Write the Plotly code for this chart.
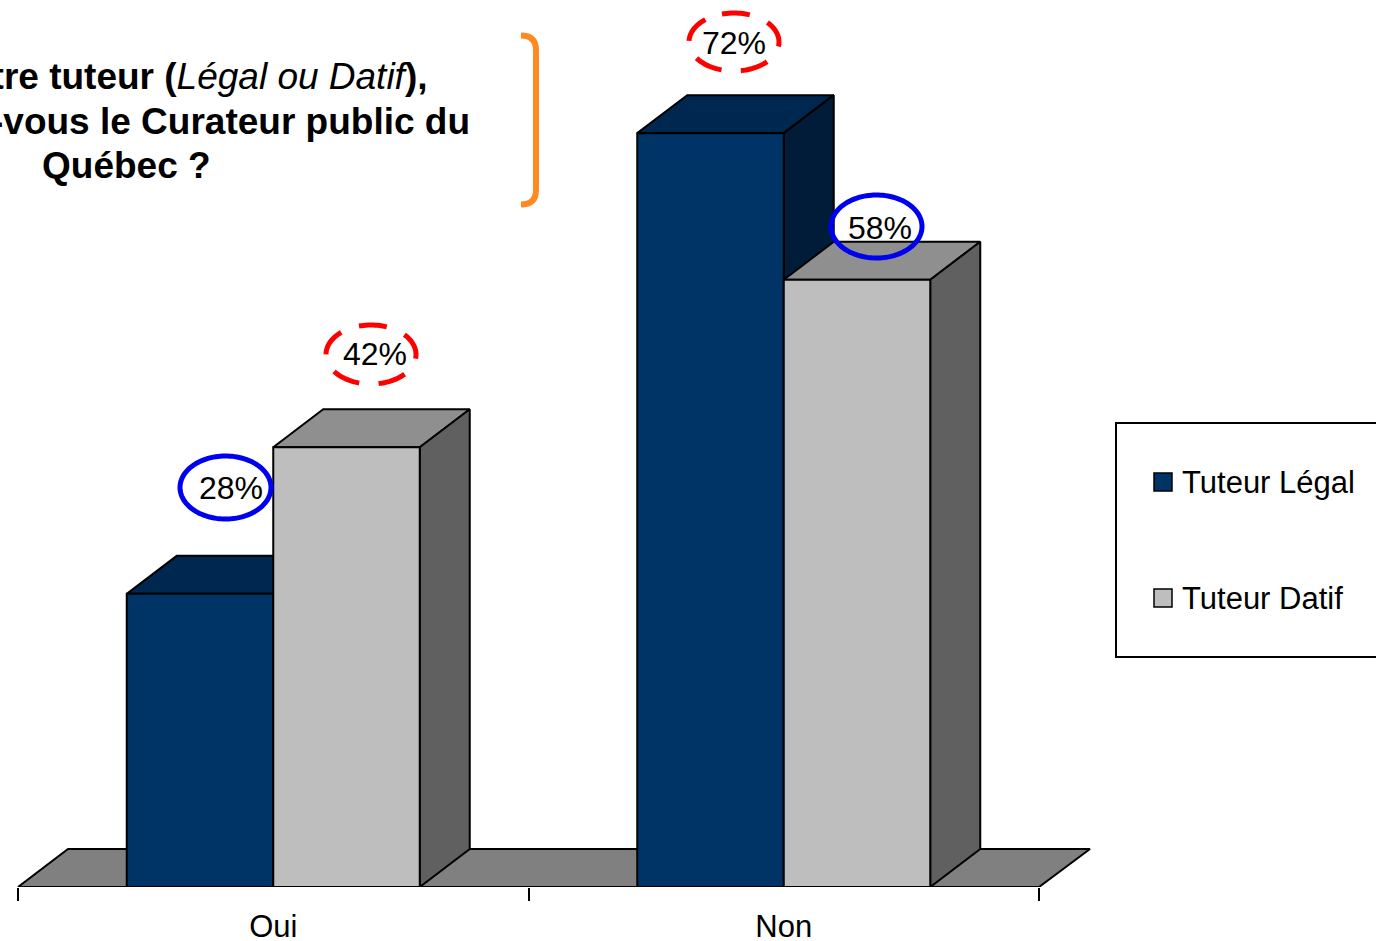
import math
import plotly.graph_objects as go

categories = ["Oui", "Non"]
series_names = ["Tuteur Légal", "Tuteur Datif"]
tuteur_legal = [28, 72]
tuteur_datif = [42, 58]
title_lines = ["<b>être tuteur (</b><i>Légal ou Datif</i><b>),</b>",
               "<b>-vous le Curateur public du</b>",
               "<b>Québec ?</b>"]

W, H, BOTTOM = 1376, 941, 887
CAT_PX = 510.5
LEFT_PX = 18
PX_PER_PCT = 10.47
DEPTH_X = 50 / CAT_PX
FLOOR_DX = 51 / CAT_PX
DEPTH_Y = 38 / PX_PER_PCT
BAR_W = 146.5 / CAT_PX
FONT = "Liberation Sans, Arial, sans-serif"

x_range = [-0.5 - LEFT_PX / CAT_PX, -0.5 + (W - LEFT_PX) / CAT_PX]
y_range = [0, BOTTOM / PX_PER_PCT]

front = ["#003366", "#BEBEBE"]
top = ["#00274F", "#8F8F8F"]
side = ["#001C38", "#606060"]
FLOOR = "#808080"
LINE = "#000000"

def px(v):
    return v / W

def py(v):
    return (BOTTOM - v) / BOTTOM

def face(xs, ys, color, name):
    return go.Scatter(x=xs, y=ys, mode="lines", fill="toself", fillcolor=color,
                      line=dict(color=LINE, width=2), hoverinfo="skip",
                      showlegend=False, name=name, xaxis="x", yaxis="y")

fig = go.Figure()

# floor
fig.add_trace(face([-0.5, -0.5 + DEPTH_X, 1.5 + FLOOR_DX, 1.5, -0.5],
                   [0, DEPTH_Y, DEPTH_Y, 0, 0], FLOOR, "floor"))

# 3D faces, computed from the values
series = [tuteur_legal, tuteur_datif]
for s, values in enumerate(series):
    for c, v in enumerate(values):
        x0 = c - BAR_W + s * BAR_W
        x1 = x0 + BAR_W
        fig.add_trace(face([x0, x0 + DEPTH_X, x1 + DEPTH_X, x1, x0],
                           [v, v + DEPTH_Y, v + DEPTH_Y, v, v], top[s], "top"))
        fig.add_trace(face([x1, x1 + DEPTH_X, x1 + DEPTH_X, x1, x1],
                           [v, v + DEPTH_Y, DEPTH_Y, 0, v], side[s], "side"))

# front faces
for s, values in enumerate(series):
    fig.add_trace(go.Bar(x=categories, y=values, name=series_names[s],
                         marker=dict(color=front[s], line=dict(color=LINE, width=2)),
                         xaxis="x2", yaxis="y", showlegend=False))

shapes = []

def ellipse(x0, y0, x1, y1, color, width, dash):
    # closed polyline, starting just left of the top so the dashes fall as in the picture
    cx, cy, rx, ry = (x0 + x1) / 2, (y0 + y1) / 2, (x1 - x0) / 2, (y1 - y0) / 2
    parts = []
    for i in range(121):
        t = math.radians(-15.5 + 3 * i)
        parts.append(("M" if i == 0 else "L") +
                     f" {px(cx + rx * math.sin(t))} {py(cy - ry * math.cos(t))}")
    shapes.append(dict(type="path", xref="paper", yref="paper", path=" ".join(parts),
                       line=dict(color=color, width=width, dash=dash), layer="above"))

BLUE, RED = "#0000F0", "#FF0000"
ellipse(180, 456, 271, 519, BLUE, 5, "solid")
ellipse(831, 195, 922, 258, BLUE, 5, "solid")
ellipse(326, 325, 416, 384, RED, 5, "28px,19.4px")
ellipse(689, 13, 779, 71, RED, 5, "28px,19.4px")

# orange bracket
shapes.append(dict(type="path", xref="paper", yref="paper",
                   path=(f"M {px(521)} {py(35.5)} Q {px(536)} {py(35.5)} {px(536)} {py(50)} "
                         f"L {px(536)} {py(190)} Q {px(536)} {py(204.5)} {px(521)} {py(204.5)}"),
                   line=dict(color="#FF8A20", width=6), layer="above"))

# legend
shapes.append(dict(type="rect", xref="paper", yref="paper",
                   x0=px(1116), x1=px(1400), y0=py(657), y1=py(423),
                   line=dict(color=LINE, width=2), fillcolor="white", layer="above"))
legend_y = [482, 598]
for s, name in enumerate(series_names):
    shapes.append(dict(type="rect", xref="paper", yref="paper",
                       x0=px(1154), x1=px(1172), y0=py(legend_y[s] + 9), y1=py(legend_y[s] - 9),
                       line=dict(color=LINE, width=1.5), fillcolor=front[s], layer="above"))

annotations = []
for s, name in enumerate(series_names):
    annotations.append(dict(xref="paper", yref="paper", x=px(1179.5), y=py(legend_y[s]),
                            xanchor="left", yanchor="middle", text=name, showarrow=False,
                            font=dict(family=FONT, size=31, color="black")))

# data labels
label_shift = [[(31, 106), (23, 90)], [(28, 93), (23, 52)]]
for s, values in enumerate(series):
    for c, v in enumerate(values):
        center = c - BAR_W + s * BAR_W + BAR_W / 2
        dx, dy = label_shift[s][c]
        annotations.append(dict(xref="x", yref="y", x=center, y=v, xshift=dx, yshift=dy,
                                text=f"{v}%", showarrow=False, xanchor="center", yanchor="middle",
                                font=dict(family=FONT, size=32, color="black")))

# question text
title_pos = [(430, 76, "right"), (472, 122, "right"), (126, 165, "center")]
for t, (tx, ty, anchor) in zip(title_lines, title_pos):
    annotations.append(dict(xref="paper", yref="paper", x=px(tx), y=py(ty),
                            xanchor=anchor, yanchor="middle", text=t, showarrow=False,
                            font=dict(family=FONT, size=37, color="black")))

fig.update_layout(
    width=W, height=H,
    margin=dict(l=0, r=0, t=0, b=H - BOTTOM, pad=0, autoexpand=False),
    paper_bgcolor="white", plot_bgcolor="rgba(0,0,0,0)",
    showlegend=False, barmode="group", bargap=1 - 2 * BAR_W, bargroupgap=0,
    xaxis=dict(visible=False, range=x_range, fixedrange=True),
    xaxis2=dict(type="category", categoryorder="array", categoryarray=categories,
                overlaying="x", anchor="y", side="bottom", range=x_range,
                showgrid=False, zeroline=False, showline=False,
                ticks="outside", tickson="boundaries", ticklen=13, tickwidth=1.5, tickcolor=LINE,
                ticklabelstandoff=18,
                tickfont=dict(family=FONT, size=31, color="black")),
    yaxis=dict(visible=False, range=y_range, fixedrange=True),
    shapes=shapes, annotations=annotations,
)

fig.write_html("out.html", config=dict(displayModeBar=False),
               post_script="document.body.style.margin='0';")
